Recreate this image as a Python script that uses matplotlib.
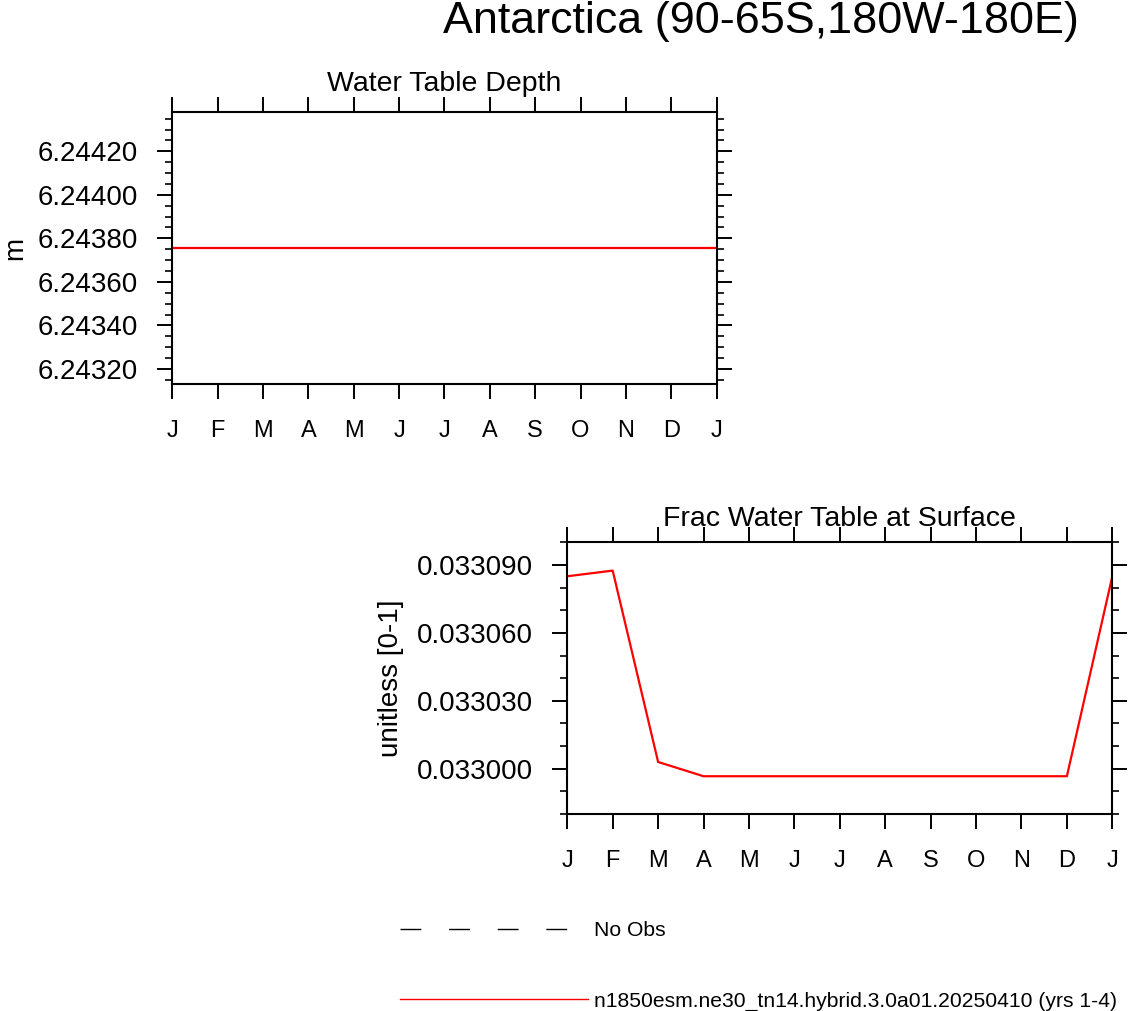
import matplotlib
matplotlib.use("Agg")
import matplotlib.pyplot as plt
from matplotlib.ticker import MultipleLocator, FormatStrFormatter
from matplotlib.lines import Line2D

plt.rcParams['font.family'] = ['Liberation Sans', 'DejaVu Sans']

# monthly climatology, Jan..Dec plus Jan repeated at the end
months = ['J', 'F', 'M', 'A', 'M', 'J', 'J', 'A', 'S', 'O', 'N', 'D', 'J']
x_pos = list(range(len(months)))

zwt = [6.243755] * 13
frac_zwt = [0.033085, 0.0330875, 0.033003, 0.0329967, 0.0329967, 0.0329967,
            0.0329967, 0.0329967, 0.0329967, 0.0329967, 0.0329967, 0.0329967,
            0.033085]

case_name = 'n1850esm.ne30_tn14.hybrid.3.0a01.20250410 (yrs 1-4)'
obs_name = 'No Obs'

fig = plt.figure(figsize=(11.28, 10.11), dpi=100)


def style_axes(ax):
    for sp in ax.spines.values():
        sp.set_linewidth(1.5)
    ax.set_xlim(0, 12)
    ax.set_xticks(x_pos)
    ax.set_xticklabels(months)
    ax.tick_params(axis='both', which='both', direction='out',
                   top=True, right=True, labeltop=False, labelright=False)
    ax.tick_params(axis='x', which='major', length=11, width=1.4,
                   labelsize=17, pad=15)
    ax.tick_params(axis='y', which='major', length=11, width=1.4,
                   labelsize=20, pad=14)
    ax.tick_params(axis='y', which='minor', length=5, width=1.2)


# Water Table Depth
ax1 = fig.add_axes([0.1528, 0.6202, 0.4825, 0.2687])
ax1.plot(x_pos, zwt, color='red', lw=1.6)
style_axes(ax1)
ax1.set_ylim(zwt[0] * (1 - 1e-4), zwt[0] * (1 + 1e-4))
ax1.yaxis.set_major_locator(MultipleLocator(0.0002))
ax1.yaxis.set_minor_locator(MultipleLocator(0.00005))
ax1.yaxis.set_major_formatter(FormatStrFormatter('%.5f'))
ax1.set_ylabel('m', fontsize=20)
ax1.yaxis.set_label_coords(-0.264, 0.5)
ax1.text(0.5, 1.0795, 'Water Table Depth', transform=ax1.transAxes,
         ha='center', va='baseline', fontsize=20.5)

# Frac Water Table at Surface
ax2 = fig.add_axes([0.5029, 0.1948, 0.4832, 0.2688])
ax2.plot(x_pos, frac_zwt, color='red', lw=1.6)
style_axes(ax2)
ax2.set_ylim(0.03298, 0.03310)
ax2.yaxis.set_major_locator(MultipleLocator(0.00003))
ax2.yaxis.set_minor_locator(MultipleLocator(0.00001))
ax2.yaxis.set_major_formatter(FormatStrFormatter('%.6f'))
ax2.set_ylabel('unitless [0-1]', fontsize=20)
ax2.yaxis.set_label_coords(-0.300, 0.5)
ax2.text(0.5, 1.06, 'Frac Water Table at Surface', transform=ax2.transAxes,
         ha='center', va='baseline', fontsize=20.5)

fig.text(0.675, 0.9674, 'Antarctica (90-65S,180W-180E)', ha='center',
         va='baseline', fontsize=32.3)

handles = [
    Line2D([], [], color='black', lw=1.0, linestyle=(0, (15, 20))),
    Line2D([], [], color='red', lw=1.0),
]
fig.legend(handles, [obs_name, case_name], loc='upper left',
           bbox_to_anchor=(400 / 1128, 1 - 921 / 1011), frameon=False,
           fontsize=15.2, handlelength=8.9, handletextpad=0.3,
           labelspacing=2.45, borderpad=0, borderaxespad=0)

fig.savefig('out.png', dpi=100)
